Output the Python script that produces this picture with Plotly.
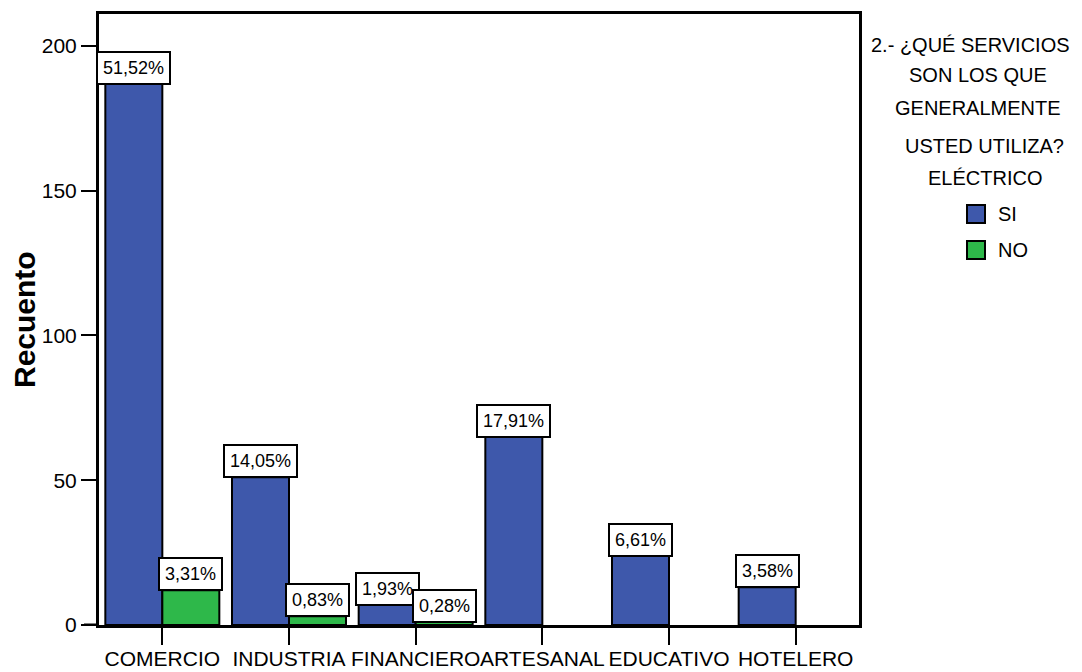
import plotly.graph_objects as go

# Conteo de respuestas por sector y uso del servicio eléctrico
sectores = ["COMERCIO", "INDUSTRIA", "FINANCIERO", "ARTESANAL", "EDUCATIVO", "HOTELERO"]
conteo_si = [187, 51, 7, 65, 24, 13]
conteo_no = [12, 3, 1, None, None, None]
y_ticks = [0, 50, 100, 150, 200]
titulo_leyenda = ["2.- ¿QUÉ SERVICIOS", "SON LOS QUE", "GENERALMENTE", "USTED UTILIZA?", "ELÉCTRICO"]
series = ["SI", "NO"]

AZUL = "#3E58AB"
VERDE = "#2EB84A"
FUENTE = "Liberation Sans, Arial, sans-serif"

W, H = 1082, 672
ML, MR, MT, MB = 99, 223, 14, 47
PW, PH = W - ML - MR, H - MT - MB


def px_x(px):
    return (px - ML) / PW


def px_y(py):
    return (H - MB - py) / PH


total = sum(v for v in conteo_si + conteo_no if v)

fig = go.Figure()
fig.add_bar(x=sectores, y=conteo_si, name="SI", marker=dict(color=AZUL, line=dict(color="black", width=2)))
fig.add_bar(x=sectores, y=conteo_no, name="NO", marker=dict(color=VERDE, line=dict(color="black", width=2)))

# Etiquetas de porcentaje en recuadro sobre cada barra
ancho_grupo = 0.9
desplazamiento = ancho_grupo / 4
anotaciones = []
for serie, valores, signo in ((0, conteo_si, -1), (1, conteo_no, 1)):
    for i, v in enumerate(valores):
        if v is None:
            continue
        pct = f"{v / total * 100:.2f}%".replace(".", ",")
        anotaciones.append(dict(
            x=i + signo * desplazamiento, y=v, xref="x", yref="y",
            text=pct, showarrow=False, yanchor="bottom", xanchor="center", yshift=-1,
            font=dict(family=FUENTE, size=18, color="black"),
            bgcolor="white", bordercolor="black", borderwidth=2, borderpad=5,
        ))

# Título del eje Y
anotaciones.append(dict(
    x=px_x(24), y=px_y(320), xref="paper", yref="paper", text="<b>Recuento</b>",
    textangle=-90, showarrow=False, xanchor="center", yanchor="middle",
    font=dict(family=FUENTE, size=30, color="black"),
))

# Título de la leyenda, línea por línea
centros = [970, 978, 978, 984, 985]
alturas = [45, 75, 108, 146, 178]
for linea, cx, cy in zip(titulo_leyenda, centros, alturas):
    anotaciones.append(dict(
        x=px_x(cx), y=px_y(cy), xref="paper", yref="paper", text=linea,
        showarrow=False, xanchor="center", yanchor="middle",
        font=dict(family=FUENTE, size=20, color="black"),
    ))

formas = []
for nombre, color, cy in zip(series, [AZUL, VERDE], [214, 250]):
    formas.append(dict(
        type="rect", xref="paper", yref="paper",
        x0=px_x(967), x1=px_x(985), y0=px_y(cy - 9), y1=px_y(cy + 9),
        fillcolor=color, line=dict(color="black", width=2),
    ))
    anotaciones.append(dict(
        x=px_x(996), y=px_y(cy), xref="paper", yref="paper", text=nombre,
        showarrow=False, xanchor="left", yanchor="middle",
        font=dict(family=FUENTE, size=20, color="black"),
    ))

# Prolongación de la línea base hacia la izquierda
formas.append(dict(
    type="line", xref="paper", yref="y", x0=px_x(84), x1=0, y0=0, y1=0,
    line=dict(color="black", width=3),
))

fig.update_layout(
    width=W, height=H, autosize=False,
    margin=dict(l=ML, r=MR, t=MT, b=MB, pad=0),
    paper_bgcolor="white", plot_bgcolor="white",
    barmode="group", bargap=1 - ancho_grupo, bargroupgap=0,
    showlegend=False,
    font=dict(family=FUENTE, color="black"),
    annotations=anotaciones, shapes=formas,
    xaxis=dict(
        range=[-0.5, 5.5], showline=True, linecolor="black", linewidth=3, mirror=True,
        ticks="outside", ticklen=17, tickwidth=2, tickcolor="black", tickangle=0,
        ticklabelstandoff=-4,
        tickfont=dict(family=FUENTE, size=21, color="black"), showgrid=False, automargin=False,
    ),
    yaxis=dict(
        range=[0, 211], tickvals=y_ticks, showline=True, linecolor="black", linewidth=3, mirror=True,
        ticks="outside", ticklen=15, tickwidth=2, tickcolor="black", automargin=False,
        tickfont=dict(family=FUENTE, size=21, color="black"), showgrid=False, zeroline=False,
    ),
)

fig.write_html("out.html")
